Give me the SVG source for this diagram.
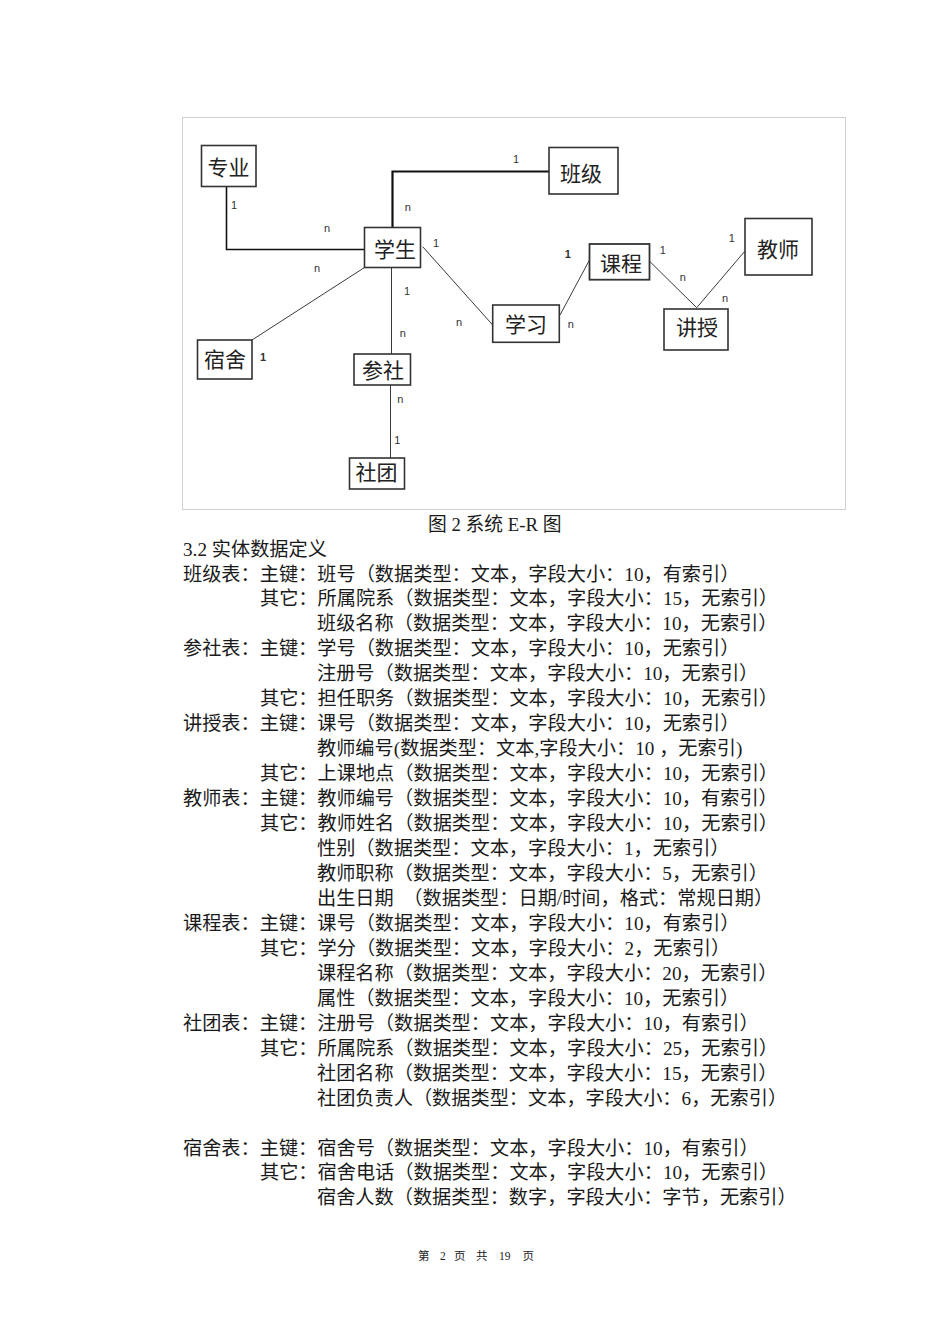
<svg xmlns="http://www.w3.org/2000/svg" width="950" height="1344" viewBox="0 0 950 1344">
<style>
.frame{fill:none;stroke:#cfcfcf;stroke-width:1}
.box{fill:#fff;stroke:#333;stroke-width:1.6}
.bt{font-family:"Noto Sans CJK SC","Noto Sans",sans-serif;font-size:21px;fill:#222;text-anchor:middle;dominant-baseline:central}
.ln{fill:none;stroke:#3a3a3a;stroke-width:1}
.lnk{fill:none;stroke:#111;stroke-width:1.6}
.lnb{fill:none;stroke:#111;stroke-width:2.2}
.lb{font-family:"Liberation Sans",Arial,sans-serif;font-size:11px;fill:#333;text-anchor:middle;dominant-baseline:central}
.lbb{font-weight:bold}
.tx{font-family:"Liberation Serif","Noto Sans CJK SC",serif;font-size:19.2px;fill:#1a1a1a}
.cap{font-family:"Liberation Serif","Noto Sans CJK SC",serif;font-size:18.8px;fill:#1a1a1a}
.ft{font-family:"Liberation Serif","Noto Sans CJK SC",serif;font-size:11.5px;fill:#222}
</style>
<rect x="0" y="0" width="950" height="1344" fill="#fff"/>
<rect class="frame" x="182.5" y="117.5" width="663" height="392"/>

<g id="connectors">
<polyline class="lnk" points="226.5,186 226.5,249.5 364,249.5"/>
<polyline class="lnb" points="392.5,227 392.5,171.5 549,171.5"/>
<line class="ln" x1="364.5" y1="267.5" x2="252" y2="340"/>
<line class="ln" x1="391.5" y1="268" x2="391.5" y2="354"/>
<line class="ln" x1="390.5" y1="385" x2="390.5" y2="458"/>
<line class="ln" x1="422.7" y1="246.7" x2="492.7" y2="325"/>
<line class="ln" x1="560" y1="315" x2="590" y2="259"/>
<line class="ln" x1="650" y1="261.7" x2="696.7" y2="307.7"/>
<line class="ln" x1="745" y1="251" x2="696.7" y2="307.7"/>
<text class="lb" x="234" y="205">1</text>
<text class="lb" x="327" y="228">n</text>
<text class="lb" x="407.7" y="207">n</text>
<text class="lb" x="516" y="159">1</text>
<text class="lb" x="317" y="267.7">n</text>
<text class="lb lbb" x="263" y="357">1</text>
<text class="lb" x="407" y="290.7">1</text>
<text class="lb" x="402.7" y="333">n</text>
<text class="lb" x="400.3" y="399.3">n</text>
<text class="lb" x="397.3" y="440">1</text>
<text class="lb" x="436" y="243.3">1</text>
<text class="lb" x="459" y="322">n</text>
<text class="lb lbb" x="567.7" y="254.3">1</text>
<text class="lb" x="570.7" y="324.3">n</text>
<text class="lb" x="662.7" y="250">1</text>
<text class="lb" x="682.7" y="277.3">n</text>
<text class="lb" x="731.7" y="238.3">1</text>
<text class="lb" x="725" y="297.7">n</text>
</g>

<g id="zhuanye"><rect class="box" x="201.5" y="145.5" width="54.5" height="41"/><text class="bt" x="228.5" y="166">专业</text></g>
<g id="xuesheng"><rect class="box" x="364.5" y="227.5" width="56" height="40"/><text class="bt" x="395" y="247.5">学生</text></g>
<g id="banji"><rect class="box" x="549" y="147.5" width="69" height="46.5"/><text class="bt" x="581" y="171.5">班级</text></g>
<g id="sushe"><rect class="box" x="197.5" y="340" width="54.5" height="39"/><text class="bt" x="225" y="357.5">宿舍</text></g>
<g id="canshe"><rect class="box" x="354" y="354" width="56.5" height="31"/><text class="bt" x="383" y="369">参社</text></g>
<g id="shetuan"><rect class="box" x="349.5" y="458" width="55" height="31"/><text class="bt" x="376.5" y="470.5">社团</text></g>
<g id="xuexi"><rect class="box" x="492.7" y="305" width="66.6" height="37.3"/><text class="bt" x="526" y="322.5">学习</text></g>
<g id="kecheng"><rect class="box" x="589.5" y="244" width="60" height="35.7" style="stroke-width:1.8"/><text class="bt" x="621" y="261.7">课程</text></g>
<g id="jiaoshi"><rect class="box" x="745" y="218.5" width="67" height="56.5"/><text class="bt" x="778" y="248.3">教师</text></g>
<g id="jiangshou"><rect class="box" x="664" y="309" width="64" height="41"/><text class="bt" x="697" y="325.7">讲授</text></g>

<g id="body">
<text class="cap" x="428" y="531" xml:space="preserve">图 2 系统 E-R 图</text>
<text class="tx" x="183" y="556">3.2 实体数据定义</text>
<text class="tx" x="183" y="580.5">班级表：主键：班号（数据类型：文本，字段大小：10，有索引）</text>
<text class="tx" x="260" y="605.4">其它：所属院系（数据类型：文本，字段大小：15，无索引）</text>
<text class="tx" x="317" y="630.4">班级名称（数据类型：文本，字段大小：10，无索引）</text>
<text class="tx" x="183" y="655.4">参社表：主键：学号（数据类型：文本，字段大小：10，无索引）</text>
<text class="tx" x="317" y="680.3">注册号（数据类型：文本，字段大小：10，无索引）</text>
<text class="tx" x="260" y="705.3">其它：担任职务（数据类型：文本，字段大小：10，无索引）</text>
<text class="tx" x="183" y="730.2">讲授表：主键：课号（数据类型：文本，字段大小：10，无索引）</text>
<text class="tx" x="317" y="755.2" xml:space="preserve">教师编号(数据类型：文本,字段大小：10 ，无索引)</text>
<text class="tx" x="260" y="780.1">其它：上课地点（数据类型：文本，字段大小：10，无索引）</text>
<text class="tx" x="183" y="805.1">教师表：主键：教师编号（数据类型：文本，字段大小：10，有索引）</text>
<text class="tx" x="260" y="830">其它：教师姓名（数据类型：文本，字段大小：10，无索引）</text>
<text class="tx" x="317" y="855">性别（数据类型：文本，字段大小：1，无索引）</text>
<text class="tx" x="317" y="880">教师职称（数据类型：文本，字段大小：5，无索引）</text>
<text class="tx" x="317" y="904.9" xml:space="preserve">出生日期  （数据类型：日期/时间，格式：常规日期）</text>
<text class="tx" x="183" y="929.9">课程表：主键：课号（数据类型：文本，字段大小：10，有索引）</text>
<text class="tx" x="260" y="954.8">其它：学分（数据类型：文本，字段大小：2，无索引）</text>
<text class="tx" x="317" y="979.8">课程名称（数据类型：文本，字段大小：20，无索引）</text>
<text class="tx" x="317" y="1004.7">属性（数据类型：文本，字段大小：10，无索引）</text>
<text class="tx" x="183" y="1029.7">社团表：主键：注册号（数据类型：文本，字段大小：10，有索引）</text>
<text class="tx" x="260" y="1054.6">其它：所属院系（数据类型：文本，字段大小：25，无索引）</text>
<text class="tx" x="317" y="1079.6">社团名称（数据类型：文本，字段大小：15，无索引）</text>
<text class="tx" x="317" y="1104.5">社团负责人（数据类型：文本，字段大小：6，无索引）</text>
<text class="tx" x="183" y="1154.5">宿舍表：主键：宿舍号（数据类型：文本，字段大小：10，有索引）</text>
<text class="tx" x="260" y="1179.4">其它：宿舍电话（数据类型：文本，字段大小：10，无索引）</text>
<text class="tx" x="317" y="1204.4">宿舍人数（数据类型：数字，字段大小：字节，无索引）</text>
</g>

<g id="footer">
<text class="ft" y="1260"><tspan x="418">第</tspan><tspan x="440">2</tspan><tspan x="454">页</tspan><tspan x="476">共</tspan><tspan x="499">19</tspan><tspan x="522.5">页</tspan></text>
</g>
</svg>
